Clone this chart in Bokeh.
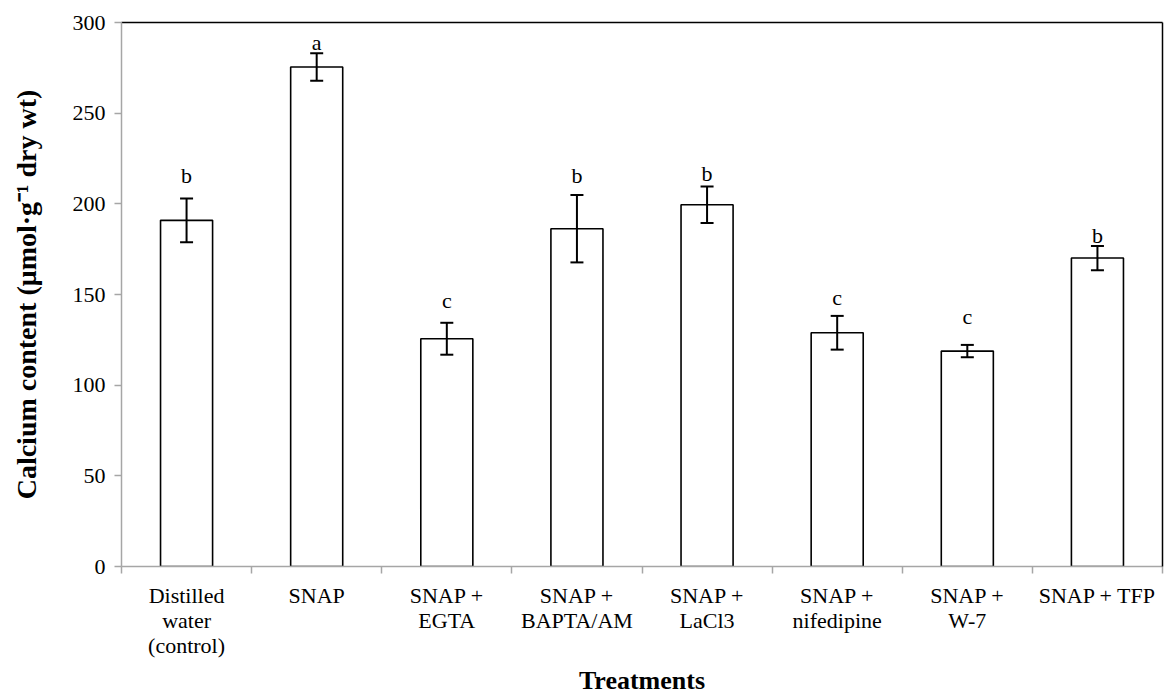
from bokeh.plotting import figure
from bokeh.models import Range1d, FixedTicker, LinearAxis, ColumnDataSource, Whisker, TeeHead
from bokeh.core.properties import value
from bokeh.embed import file_html
from bokeh.resources import INLINE

# ---- data ----
treatments = ["Distilled\nwater\n(control)", "SNAP", "SNAP +\nEGTA", "SNAP +\nBAPTA/AM",
              "SNAP +\nLaCl3", "SNAP +\nnifedipine", "SNAP +\nW-7", "SNAP + TFP"]
calcium = [190.9, 275.5, 125.6, 186.3, 199.5, 128.9, 118.8, 170.1]
errors = [12.1, 7.6, 8.8, 18.6, 10.1, 9.3, 3.4, 6.7]
letters = ["b", "a", "c", "b", "b", "c", "c", "b"]
letter_y = [215.5, 289.0, 146.5, 215.5, 217.0, 148.3, 137.6, 182.3]
y_ticks = [0, 50, 100, 150, 200, 250, 300]

FONT = "Liberation Serif"
GRAY = "#A6A6A6"

n = len(treatments)
xs = list(range(1, n + 1))
src = ColumnDataSource(dict(
    x=xs, top=calcium,
    upper=[v + e for v, e in zip(calcium, errors)],
    lower=[v - e for v, e in zip(calcium, errors)],
    letter=letters, ly=letter_y,
))

p = figure(width=1166, height=697, x_range=Range1d(0.5, n + 0.5), y_range=Range1d(0, 300),
           output_backend="svg", toolbar_location=None,
           min_border_left=121, min_border_right=4, min_border_top=22, min_border_bottom=0)
p.xgrid.visible = False
p.ygrid.visible = False
p.outline_line_color = None
p.background_fill_color = "white"
p.border_fill_color = "white"

p.vbar(x="x", top="top", width=0.4, bottom=0, source=src,
       fill_color="white", line_color="black", line_width=1.6)

w = Whisker(source=src, base="x", upper="upper", lower="lower", level="overlay",
            line_color="black", line_width=2,
            upper_head=TeeHead(size=13, line_width=2, line_color="black"),
            lower_head=TeeHead(size=13, line_width=2, line_color="black"))
p.add_layout(w)

p.text(x="x", y="ly", text="letter", source=src, text_font=value(FONT),
       text_font_size="22px", text_align="center", text_baseline="alphabetic",
       text_color="black")

# y axis
ya = p.yaxis[0]
ya.ticker = FixedTicker(ticks=y_ticks)
ya.axis_line_color = GRAY
ya.axis_line_width = 1.5
ya.major_tick_line_color = GRAY
ya.major_tick_line_width = 1.5
ya.major_tick_in = 0
ya.major_tick_out = 7
ya.minor_tick_line_color = None
ya.major_label_text_font = FONT
ya.major_label_text_font_size = "22px"
ya.major_label_text_color = "black"
ya.major_label_standoff = 9
ya.axis_label = "Calcium content (μmol·g⁻¹ dry wt)"
ya.axis_label_text_font = FONT
ya.axis_label_text_font_size = "28px"
ya.axis_label_text_font_style = "bold"
ya.axis_label_text_color = "black"
ya.axis_label_standoff = 28

# x axis
xa = p.xaxis[0]
xa.ticker = FixedTicker(ticks=xs, minor_ticks=[i + 0.5 for i in range(0, n + 1)])
xa.major_label_overrides = {x: t for x, t in zip(xs, treatments)}
xa.axis_line_color = GRAY
xa.axis_line_width = 1.5
xa.major_tick_line_color = None
xa.major_tick_in = 0
xa.major_tick_out = 0
xa.minor_tick_line_color = GRAY
xa.minor_tick_line_width = 1.5
xa.minor_tick_in = 0
xa.minor_tick_out = 7
xa.major_label_text_font = FONT
xa.major_label_text_font_size = "22px"
xa.major_label_text_color = "black"
xa.major_label_text_line_height = 1.0
xa.major_label_standoff = 9
xa.axis_label = "Treatments"
xa.axis_label_text_font = FONT
xa.axis_label_text_font_size = "26px"
xa.axis_label_text_font_style = "bold"
xa.axis_label_text_color = "black"
xa.axis_label_standoff = 5

# top and right border lines
for loc in ("above", "right"):
    ax = LinearAxis(ticker=FixedTicker(ticks=[]), axis_line_color="black", axis_line_width=1.5,
                    major_tick_line_color=None, minor_tick_line_color=None)
    p.add_layout(ax, loc)

open("out.html", "w").write(file_html(p, INLINE))
